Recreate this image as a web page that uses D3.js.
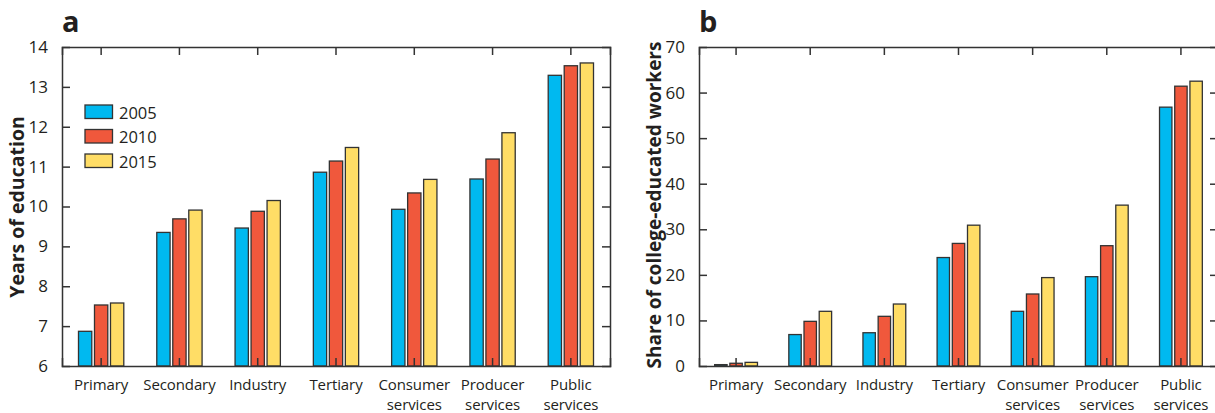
<!DOCTYPE html>
<head>
	<meta charset="UTF-8">
	<script src="https://d3js.org/d3.v7.min.js"></script>
	<title>Education by sector</title>
<style>
	body{
		margin: 0;
		background-color: white;
	}
	svg{
		display: block;
		font-family: 'Open Sans', sans-serif;
	}
</style>
</head>

<body>
	<svg width=1215 height=413></svg>
</body>

<script>
	// Data
	var sectors = ["Primary", "Secondary", "Industry", "Tertiary", "Consumer services", "Producer services", "Public services"];
	var years = ["2005", "2010", "2015"];

	var eduYears2005 = [6.87, 9.35, 9.46, 10.86, 9.93, 10.69, 13.29];
	var eduYears2010 = [7.53, 9.69, 9.88, 11.14, 10.34, 11.19, 13.53];
	var eduYears2015 = [7.58, 9.91, 10.15, 11.48, 10.68, 11.85, 13.60];

	var college2005 = [0.3, 6.9, 7.3, 23.8, 12.0, 19.6, 56.8];
	var college2010 = [0.6, 9.8, 10.9, 26.9, 15.8, 26.4, 61.4];
	var college2015 = [0.8, 12.0, 13.6, 30.9, 19.4, 35.3, 62.5];

	var yearColors = ["#00b9f0", "#f0583c", "#ffdd66"];

	var svg = d3.select("svg");
	var axisColor = "#333";
	var textColor = "#231f20";

	// Builds one panel
	function drawPanel(opts){
		var g = svg.append("g");
		var left = opts.left, right = opts.right, top = 47, bottom = 366;

		var x = d3.scaleBand()
				.domain(sectors)
				.range([left, right]);
		var y = d3.scaleLinear()
				.domain(opts.domain)
				.range([bottom, top]);
		var xSub = d3.scaleBand()
				.domain(years)
				.range([-opts.step * 1.5, opts.step * 1.5]);

		// Bars
		var rows = [];
		sectors.forEach(function(s, i){
			years.forEach(function(yr, j){
				rows.push({sector: s, year: yr, value: opts.series[j][i], color: yearColors[j]});
			});
		});

		g.append("g")
			.selectAll("rect")
			.data(rows).enter()
			.append("rect")
			.attr("x", function(d){return x(d.sector) + x.bandwidth()/2 + xSub(d.year) + (opts.step - opts.barWidth)/2})
			.attr("width", opts.barWidth)
			.attr("y", function(d){return y(d.value)})
			.attr("height", function(d){return bottom - y(d.value)})
			.attr("fill", function(d){return d.color})
			.attr("stroke", "#333")
			.attr("stroke-width", 1.3);

		// Axes with inward ticks
		var tickLen = 8;
		var yLeft = d3.axisLeft(y).tickValues(opts.ticks).tickSize(-tickLen).tickPadding(tickLen + 6);
		var yRight = d3.axisRight(y).tickValues(opts.ticks).tickSize(-tickLen).tickFormat("");
		var xBottom = d3.axisBottom(x).tickSize(-tickLen).tickFormat("");
		var xTop = d3.axisTop(x).tickSize(-tickLen).tickFormat("");

		var gl = g.append("g").attr("transform", "translate(" + left + ",0)").call(yLeft);
		g.append("g").attr("transform", "translate(" + right + ",0)").call(yRight);
		g.append("g").attr("transform", "translate(0," + bottom + ")").call(xBottom);
		g.append("g").attr("transform", "translate(0," + top + ")").call(xTop);

		g.selectAll(".domain").attr("stroke", axisColor).attr("stroke-width", 1.5);
		g.selectAll(".tick line").attr("stroke", axisColor).attr("stroke-width", 1.5);
		gl.selectAll(".tick text")
			.attr("font-size", "17px")
			.attr("font-family", "Open Sans")
			.attr("fill", textColor);

		// Remove tick marks that sit on the top/bottom frame
		g.selectAll(".tick").filter(function(d){return d === opts.domain[0] || d === opts.domain[1]})
			.select("line").remove();

		// Category labels, one text per line
		var lines = [];
		sectors.forEach(function(s){
			s.split(" ").forEach(function(p, k){
				lines.push({sector: s, text: p, line: k});
			});
		});
		g.append("g")
			.selectAll("text")
			.data(lines).enter()
			.append("text")
			.attr("text-anchor", "middle")
			.attr("font-size", "15px")
			.attr("letter-spacing", "-0.1px")
			.attr("fill", textColor)
			.attr("x", function(d){return x(d.sector) + x.bandwidth()/2})
			.attr("y", function(d){return 389.5 + d.line * 20.5})
			.text(function(d){return d.text});

		// Y axis title
		g.append("text")
			.attr("transform", "translate(" + opts.titleX + "," + opts.titleY + ") rotate(-90)")
			.attr("text-anchor", "middle")
			.attr("font-size", opts.titleSize)
			.attr("font-weight", "bold")
			.attr("fill", textColor)
			.text(opts.title);

		// Panel letter
		g.append("text")
			.attr("x", opts.letterX)
			.attr("y", 32)
			.attr("font-size", "29px")
			.attr("font-weight", "bold")
			.attr("fill", textColor)
			.text(opts.letter);

		return g;
	}

	var panelA = drawPanel({
		left: 62, right: 610,
		domain: [6, 14], ticks: d3.range(6, 15),
		series: [eduYears2005, eduYears2010, eduYears2015],
		step: 16, barWidth: 13.3,
		title: "Years of education", titleX: 24, titleY: 207, titleSize: "19.5px",
		letter: "a", letterX: 62
	});

	var panelB = drawPanel({
		left: 699, right: 1218,
		domain: [0, 70], ticks: d3.range(0, 71, 10),
		series: [college2005, college2010, college2015],
		step: 15.2, barWidth: 12.4,
		title: "Share of college-educated workers", titleX: 661, titleY: 205, titleSize: "19px",
		letter: "b", letterX: 699
	});

	// Legend in panel a
	var legend = panelA.append("g")
		.selectAll("g")
		.data(years).enter()
		.append("g")
		.attr("transform", function(d, i){return "translate(85," + (105 + i * 24.5) + ")"});
	legend.append("rect")
		.attr("width", 27.5)
		.attr("height", 13.5)
		.attr("fill", function(d, i){return yearColors[i]})
		.attr("stroke", "#333")
		.attr("stroke-width", 1.3);
	legend.append("text")
		.attr("x", 34)
		.attr("y", 13.5)
		.attr("font-size", "16.5px")
		.attr("fill", textColor)
		.text(function(d){return d});
</script>
